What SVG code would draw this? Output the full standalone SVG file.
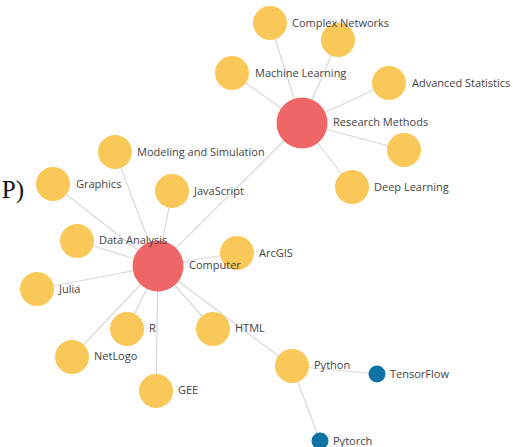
<svg xmlns="http://www.w3.org/2000/svg" width="513" height="447" viewBox="0 0 513 447">
<style>
.e{stroke:#d8d8d8;stroke-width:1.2;fill:none}
.y{fill:#fac858}
.r{fill:#ee6666}
.b{fill:#0f72a6}
.t{font-family:"Open Sans","Noto Sans",sans-serif;font-size:11px;fill:#444;dominant-baseline:central}
</style>
<rect width="513" height="447" fill="#fff"/>
<text x="24" y="198" text-anchor="end" font-family="Liberation Serif,serif" font-size="25" fill="#111">P)</text>
<g id="edges">
<line class="e" x1="302" y1="123" x2="270" y2="23"/>
<line class="e" x1="302" y1="123" x2="338" y2="40"/>
<line class="e" x1="302" y1="123" x2="232" y2="73"/>
<line class="e" x1="302" y1="123" x2="389" y2="83"/>
<line class="e" x1="302" y1="123" x2="404" y2="150"/>
<line class="e" x1="302" y1="123" x2="352" y2="187"/>
<line class="e" x1="302" y1="123" x2="158" y2="266"/>
<line class="e" x1="158" y1="266" x2="115" y2="152"/>
<line class="e" x1="158" y1="266" x2="53" y2="184"/>
<line class="e" x1="158" y1="266" x2="172" y2="191"/>
<line class="e" x1="158" y1="266" x2="77" y2="241"/>
<line class="e" x1="158" y1="266" x2="237" y2="253"/>
<line class="e" x1="158" y1="266" x2="37" y2="289"/>
<line class="e" x1="158" y1="266" x2="127" y2="329"/>
<line class="e" x1="158" y1="266" x2="213" y2="329"/>
<line class="e" x1="158" y1="266" x2="72" y2="357"/>
<line class="e" x1="158" y1="266" x2="156" y2="391"/>
<line class="e" x1="158" y1="266" x2="292" y2="366"/>
<line class="e" x1="292" y1="366" x2="377" y2="374"/>
<line class="e" x1="292" y1="366" x2="320" y2="441"/>
</g>
<g id="n-complex"><circle class="y" cx="270" cy="23" r="17"/></g>
<g id="n-unl1"><circle class="y" cx="338" cy="40" r="17"/></g>
<g id="n-ml"><circle class="y" cx="232" cy="73" r="17"/></g>
<g id="n-adv"><circle class="y" cx="389" cy="83" r="17"/></g>
<g id="n-rm"><circle class="r" cx="302" cy="123" r="25.5"/></g>
<g id="n-unl2"><circle class="y" cx="404" cy="150" r="17"/></g>
<g id="n-dl"><circle class="y" cx="352" cy="187" r="17"/></g>
<g id="n-mod"><circle class="y" cx="115" cy="152" r="17"/></g>
<g id="n-gr"><circle class="y" cx="53" cy="184" r="17"/></g>
<g id="n-js"><circle class="y" cx="172" cy="191" r="17"/></g>
<g id="n-da"><circle class="y" cx="77" cy="241" r="17"/></g>
<g id="n-arc"><circle class="y" cx="237" cy="253" r="17"/></g>
<g id="n-comp"><circle class="r" cx="158" cy="266" r="25.5"/></g>
<g id="n-julia"><circle class="y" cx="37" cy="289" r="17"/></g>
<g id="n-r"><circle class="y" cx="127" cy="329" r="17"/></g>
<g id="n-html"><circle class="y" cx="213" cy="329" r="17"/></g>
<g id="n-net"><circle class="y" cx="72" cy="357" r="17"/></g>
<g id="n-gee"><circle class="y" cx="156" cy="391" r="17"/></g>
<g id="n-py"><circle class="y" cx="292" cy="366" r="17"/></g>
<g id="n-tf"><circle class="b" cx="377" cy="374" r="8.5"/></g>
<g id="n-pt"><circle class="b" cx="320" cy="441" r="8.5"/></g>
<g id="labels">
<text class="t" x="292" y="22">Complex Networks</text>
<text class="t" x="255" y="72">Machine Learning</text>
<text class="t" x="412" y="82">Advanced Statistics</text>
<text class="t" x="333" y="121">Research Methods</text>
<text class="t" x="374" y="186">Deep Learning</text>
<text class="t" x="137" y="151">Modeling and Simulation</text>
<text class="t" x="76" y="183">Graphics</text>
<text class="t" x="194" y="190">JavaScript</text>
<text class="t" x="99" y="239">Data Analysis</text>
<text class="t" x="259" y="252">ArcGIS</text>
<text class="t" x="189" y="264">Computer</text>
<text class="t" x="59" y="288">Julia</text>
<text class="t" x="149" y="327">R</text>
<text class="t" x="235" y="327">HTML</text>
<text class="t" x="94" y="355">NetLogo</text>
<text class="t" x="178" y="389">GEE</text>
<text class="t" x="314" y="364">Python</text>
<text class="t" x="390" y="373">TensorFlow</text>
<text class="t" x="333" y="440">Pytorch</text>
</g>
</svg>
